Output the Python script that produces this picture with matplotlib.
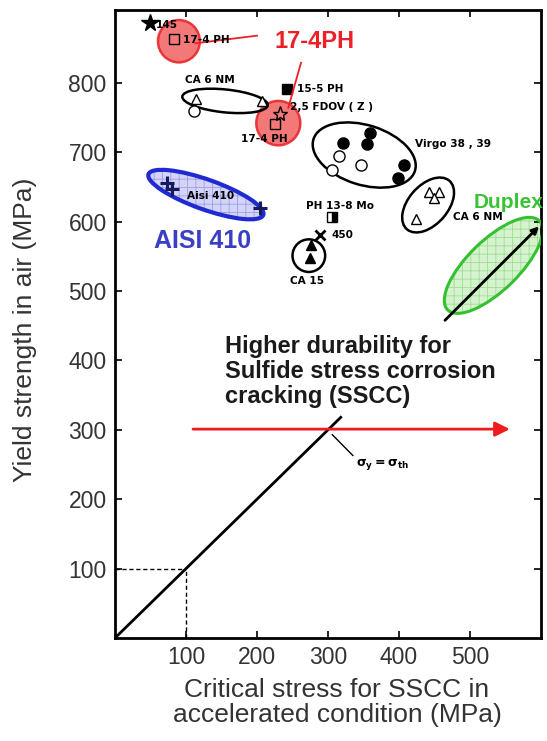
import matplotlib
matplotlib.use("Agg")
import matplotlib.pyplot as plt
from matplotlib.patches import Ellipse

plt.rcParams["font.family"] = ["Liberation Sans", "DejaVu Sans"]
plt.rcParams["hatch.linewidth"] = 0.6

# axis ticks
x_ticks = [100, 200, 300, 400, 500]
y_ticks = [100, 200, 300, 400, 500, 600, 700, 800]

# markers: (x, y) in MPa
star_pts = [(49, 886)]
open_square_pts = [(83, 863), (225, 740)]
open_star_pts = [(232, 755)]
filled_square_pts = [(242, 791)]
half_square_pts = [(306, 606)]
open_triangle_pts = [(114, 777), (207, 774), (442, 643), (456, 643), (449, 634), (424, 604)]
open_circle_pts = [(111, 760), (316, 694), (306, 675), (346, 682)]
filled_circle_pts = [(359, 728), (355, 712), (321, 714), (407, 681), (399, 663)]
filled_triangle_pts = [(276, 567), (275, 547)]
cross_pts = [(289, 581)]
plus_pts = [(73, 656), (80, 647), (204, 619)]

# group outlines: centre x, centre y, width, height, angle
black_groups = [
    (155, 774, 121, 33, -6),    # CA 6 NM (upper)
    (351, 696, 150, 86, -18),   # Virgo 38, 39
    (441, 624, 92, 56, 50),     # CA 6 NM (right)
    (273, 551, 46, 47, 0),      # CA 15
]
aisi_group = (128, 639, 172, 43, -20)
duplex_group = (533, 537, 182, 72, 45)
red_groups = [(90, 860, 59, 61), (230, 742, 62, 64)]

# small grade labels: text, x, y, alignment
grade_labels = [
    ("145", 58, 884, "left"),
    ("17-4 PH", 96, 862, "left"),
    ("CA 6 NM", 134, 804, "center"),
    ("15-5 PH", 257, 791, "left"),
    ("2,5 FDOV ( Z )", 246, 765, "left"),
    ("17-4 PH", 211, 719, "center"),
    ("Virgo 38 , 39", 423, 712, "left"),
    ("PH 13-8 Mo", 317, 623, "center"),
    ("450", 305, 581, "left"),
    ("CA 15", 270, 514, "center"),
    ("CA 6 NM", 476, 606, "left"),
    ("Aisi 410", 134, 637, "center"),
]

fig = plt.figure(figsize=(5.47, 7.41), dpi=100)
ax = fig.add_axes([115 / 547, 103 / 741, 426 / 547, 628 / 741])
ax.set_xlim(0, 600)
ax.set_ylim(0, 905)

# shaded alloy regions
for cx, cy, w, h in red_groups:
    ax.add_patch(Ellipse((cx, cy), w, h, facecolor="#f26b6b", edgecolor="#e8282a",
                         lw=1.8, alpha=0.9, zorder=2))

cx, cy, w, h, a = aisi_group
ax.add_patch(Ellipse((cx, cy), w, h, angle=a, facecolor="#d4d4f8", edgecolor="#9f9fe6",
                     lw=0, hatch="++", zorder=1))
ax.add_patch(Ellipse((cx, cy), w, h, angle=a, facecolor="none", edgecolor="#1f2bd0",
                     lw=3, zorder=3))

cx, cy, w, h, a = duplex_group
ax.add_patch(Ellipse((cx, cy), w, h, angle=a, facecolor="#d6f2cf", edgecolor="#9ede92",
                     lw=0, hatch="++", zorder=1))
ax.add_patch(Ellipse((cx, cy), w, h, angle=a, facecolor="none", edgecolor="#35c12f",
                     lw=2.2, zorder=3))

for cx, cy, w, h, a in black_groups:
    ax.add_patch(Ellipse((cx, cy), w, h, angle=a, facecolor="none", edgecolor="black",
                         lw=1.8, zorder=3))


def pts(points):
    return [p[0] for p in points], [p[1] for p in points]


ms = 7
ax.plot(*pts(star_pts), "*", color="black", ms=13, zorder=4)
ax.plot(*pts(open_square_pts), "s", mfc="none", mec="black", ms=ms, mew=1, zorder=4)
ax.plot(*pts(open_star_pts), "*", mfc="none", mec="black", ms=11, mew=1, zorder=4)
ax.plot(*pts(filled_square_pts), "s", color="black", ms=ms, zorder=4)
ax.plot(*pts(half_square_pts), "s", fillstyle="right", color="black", mfc="black",
        mfcalt="white", ms=ms, mew=1, zorder=4)
ax.plot(*pts(open_triangle_pts), "^", mfc="white", mec="black", ms=ms, mew=1, zorder=4)
ax.plot(*pts(open_circle_pts), "o", mfc="white", mec="black", ms=ms + 1, mew=1, zorder=4)
ax.plot(*pts(filled_circle_pts), "o", color="black", ms=ms + 1, zorder=4)
ax.plot(*pts(filled_triangle_pts), "^", color="black", ms=ms, zorder=4)
ax.plot(*pts(cross_pts), "x", color="black", ms=ms, mew=2, zorder=4)
ax.plot(*pts(plus_pts), "+", color="#141a5a", ms=10, mew=2.2, zorder=4)

for text, x, y, ha in grade_labels:
    ax.text(x, y, text, ha=ha, va="center", fontsize=7.6, fontweight="bold",
            family="DejaVu Sans", zorder=5)

# coloured highlight labels
ax.text(225, 860, "17-4PH", color="#ec2026", fontsize=17, fontweight="bold",
        ha="left", va="center", zorder=5)
ax.plot([113, 200], [857, 868], color="#ec2026", lw=1.3, zorder=4)
ax.plot([262, 244], [829, 764], color="#ec2026", lw=1.3, zorder=4)
ax.text(124, 572, "AISI 410", color="#3a3fc4", fontsize=18, fontweight="bold",
        ha="center", va="center", zorder=5)
ax.text(505, 627, "Duplex", color="#38c234", fontsize=15, fontweight="bold",
        ha="left", va="center", clip_on=False, zorder=5)
ax.annotate("", xy=(600, 596), xytext=(462, 455),
            arrowprops=dict(arrowstyle="-|>", color="black", lw=2, mutation_scale=10),
            zorder=4, annotation_clip=False)

# sigma_y = sigma_th line and reference dashes
ax.plot([0, 318], [0, 318], color="black", lw=2, zorder=3)
ax.plot([0, 100], [100, 100], "--", color="black", lw=1, dashes=(3, 2))
ax.plot([100, 100], [0, 100], "--", color="black", lw=1, dashes=(3, 2))
ax.plot([306, 335], [293, 263], color="black", lw=1)
ax.text(340, 250, r"$\mathbf{\sigma_y = \sigma_{th}}$", fontsize=9, ha="left", va="center")

ax.annotate("", xy=(560, 301), xytext=(106, 301),
            arrowprops=dict(arrowstyle="-|>", color="#ee1c1c", lw=2, mutation_scale=22),
            zorder=4)
ax.text(155, 437, "Higher durability for\nSulfide stress corrosion\ncracking (SSCC)",
        fontsize=17, fontweight="bold", color="#1a1a1a", ha="left", va="top",
        linespacing=1.12, zorder=5)

# axes styling
ax.set_xticks(x_ticks)
ax.set_yticks(y_ticks)
ax.tick_params(direction="in", top=True, right=True, length=5, width=1.2,
               labelsize=16.5, labelcolor="#333333", pad=6)
for s in ax.spines.values():
    s.set_linewidth(2)
ax.set_ylabel("Yield strength in air (MPa)", fontsize=19, color="#333333")
ax.yaxis.set_label_coords(-0.183, 0.49)
ax.set_xlabel("Critical stress for SSCC in\naccelerated condition (MPa)",
              fontsize=19, color="#333333", linespacing=1.05)
ax.xaxis.set_label_coords(0.521, -0.063)

fig.savefig("out.png", dpi=100)
